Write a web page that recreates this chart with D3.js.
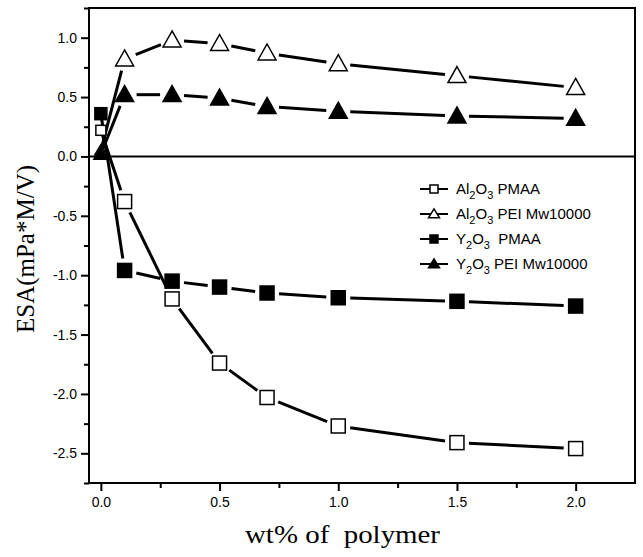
<!DOCTYPE html>
<html>
<head>
<meta charset="UTF-8">
<title>ESA vs polymer</title>
<script src="https://cdn.jsdelivr.net/npm/d3@7"></script>
<style>
  body { margin: 0; background: #fff; }
  .tick text { font-family: "Liberation Sans", Arial, sans-serif; font-size: 14px; fill: #000; }
</style>
</head>
<body>
<script>
  // wt% of polymer
  var xValues = [0, 0.1, 0.3, 0.5, 0.7, 1.0, 1.5, 2.0];

  var al2o3PMAA = [0.22, -0.38, -1.20, -1.74, -2.03, -2.27, -2.41, -2.46];
  var al2o3PEI  = [0.05, 0.82, 0.98, 0.95, 0.87, 0.78, 0.68, 0.58];
  var y2o3PMAA  = [0.36, -0.96, -1.05, -1.10, -1.15, -1.19, -1.22, -1.26];
  var y2o3PEI   = [0.02, 0.52, 0.52, 0.49, 0.42, 0.38, 0.34, 0.32];

  var xTicks = [0, 0.5, 1.0, 1.5, 2.0];
  var yTicks = [-2.5, -2.0, -1.5, -1.0, -0.5, 0.0, 0.5, 1.0];

  var series = [
    { base: "Al", sub1: "2", mid: "O", sub2: "3", rest: " PMAA", values: al2o3PMAA, shape: "square", filled: false },
    { base: "Al", sub1: "2", mid: "O", sub2: "3", rest: " PEI Mw10000", values: al2o3PEI, shape: "triangle", filled: false },
    { base: "Y", sub1: "2", mid: "O", sub2: "3", rest: "  PMAA", values: y2o3PMAA, shape: "square", filled: true },
    { base: "Y", sub1: "2", mid: "O", sub2: "3", rest: " PEI Mw10000", values: y2o3PEI, shape: "triangle", filled: true }
  ];

  var width = 643, height = 557;
  var margin = { left: 89, top: 8, right: 8, bottom: 74 };

  var x = d3.scaleLinear().domain([-0.05, 2.25]).range([margin.left, width - margin.right]);
  var y = d3.scaleLinear().domain([-2.75, 1.25]).range([height - margin.bottom, margin.top]);

  var svg = d3.select("body").append("svg")
    .attr("width", width)
    .attr("height", height);

  // frame
  svg.append("rect")
    .attr("x", x.range()[0]).attr("y", y.range()[1])
    .attr("width", x.range()[1] - x.range()[0])
    .attr("height", y.range()[0] - y.range()[1])
    .attr("fill", "none").attr("stroke", "#000").attr("stroke-width", 2);

  // zero line
  svg.append("line")
    .attr("x1", x.range()[0]).attr("x2", x.range()[1])
    .attr("y1", y(0)).attr("y2", y(0))
    .attr("stroke", "#000").attr("stroke-width", 2);

  // axes
  svg.append("g")
    .attr("transform", `translate(0,${y.range()[0]})`)
    .call(d3.axisBottom(x).tickValues(xTicks).tickFormat(d3.format(".1f")).tickSize(8).tickPadding(6));
  svg.append("g")
    .attr("transform", `translate(0,${y.range()[0]})`)
    .call(d3.axisBottom(x).tickValues(d3.range(0.25, 2.01, 0.5)).tickFormat("").tickSize(5));

  var yAxis = svg.append("g")
    .attr("transform", `translate(${x.range()[0]},0)`)
    .call(d3.axisLeft(y).tickValues(yTicks).tickFormat(d3.format(".1f")).tickSize(8).tickPadding(4));
  svg.append("g")
    .attr("transform", `translate(${x.range()[0]},0)`)
    .call(d3.axisLeft(y).tickValues(d3.range(-2.75, 1.26, 0.5)).tickFormat("").tickSize(5));

  svg.selectAll(".domain").remove();
  svg.selectAll(".tick line").attr("stroke", "#000").attr("stroke-width", 2);
  yAxis.selectAll("text").text(function(d) { return d3.format(".1f")(d).replace("−", "-"); });

  // axis titles
  svg.append("text")
    .attr("transform", `translate(34,249) rotate(-90)`)
    .attr("text-anchor", "middle")
    .style("font-family", "'Liberation Serif', 'Times New Roman', serif")
    .style("font-size", "25px")
    .text("ESA(mPa*M/V)");

  svg.append("text")
    .attr("x", 245).attr("y", 543)
    .attr("textLength", 195)
    .attr("lengthAdjust", "spacingAndGlyphs")
    .attr("xml:space", "preserve")
    .style("font-family", "'Liberation Serif', 'Times New Roman', serif")
    .style("font-size", "25px")
    .text("wt% of  polymer");

  function drawMarker(g, shape, filled, cx, cy, size) {
    if (shape === "square") {
      g.append("rect")
        .attr("x", cx - size / 2).attr("y", cy - size / 2)
        .attr("width", size).attr("height", size)
        .attr("fill", filled ? "#000" : "#fff")
        .attr("stroke", "#000").attr("stroke-width", 1.5);
    } else {
      var h = size * 0.95;
      g.append("path")
        .attr("d", `M${cx},${cy - h * 0.6}L${cx + size / 2 + 1},${cy + h * 0.45}L${cx - size / 2 - 1},${cy + h * 0.45}Z`)
        .attr("fill", filled ? "#000" : "#fff")
        .attr("stroke", "#000").attr("stroke-width", 1.5)
        .attr("stroke-linejoin", "miter");
    }
  }

  var gap = 12;
  var plot = svg.append("g");

  series.forEach(function(s) {
    var pts = xValues.map(function(xv, i) { return [x(xv), y(s.values[i])]; });
    var g = plot.append("g");
    for (var i = 0; i < pts.length - 1; i++) {
      var a = pts[i], b = pts[i + 1];
      var dx = b[0] - a[0], dy = b[1] - a[1];
      var len = Math.sqrt(dx * dx + dy * dy);
      var gA = i === 0 ? 2 : gap;
      if (len <= gA + gap) continue;
      g.append("line")
        .attr("x1", a[0] + dx / len * gA).attr("y1", a[1] + dy / len * gA)
        .attr("x2", b[0] - dx / len * gap).attr("y2", b[1] - dy / len * gap)
        .attr("stroke", "#000").attr("stroke-width", 3);
    }
  });

  series.forEach(function(s) {
    var g = plot.append("g");
    xValues.forEach(function(xv, i) {
      var size = i === 0 ? 12 : (s.shape === "square" ? 14 : 16);
      if (i === 0 && !s.filled) size = 10;
      drawMarker(g, s.shape, s.filled, x(xv), y(s.values[i]), size);
    });
  });

  // legend
  var legend = svg.append("g").attr("transform", "translate(420,189)");
  series.forEach(function(s, i) {
    var row = legend.append("g").attr("transform", `translate(0,${i * 25})`);
    row.append("line").attr("x1", 0).attr("x2", 28).attr("y1", 0).attr("y2", 0)
      .attr("stroke", "#000").attr("stroke-width", 2);
    drawMarker(row, s.shape, s.filled, 14, 0, s.shape === "square" ? 8 : 9);
    var t = row.append("text")
      .attr("x", 36).attr("y", 5)
      .attr("xml:space", "preserve")
      .style("font-family", "'Liberation Sans', Arial, sans-serif")
      .style("font-size", "15px");
    t.append("tspan").text(s.base);
    t.append("tspan").attr("dy", 5).style("font-size", "11px").text(s.sub1);
    t.append("tspan").attr("dy", -5).text(s.mid);
    t.append("tspan").attr("dy", 5).style("font-size", "11px").text(s.sub2);
    t.append("tspan").attr("dy", -5).text(s.rest);
  });
</script>
</body>
</html>
